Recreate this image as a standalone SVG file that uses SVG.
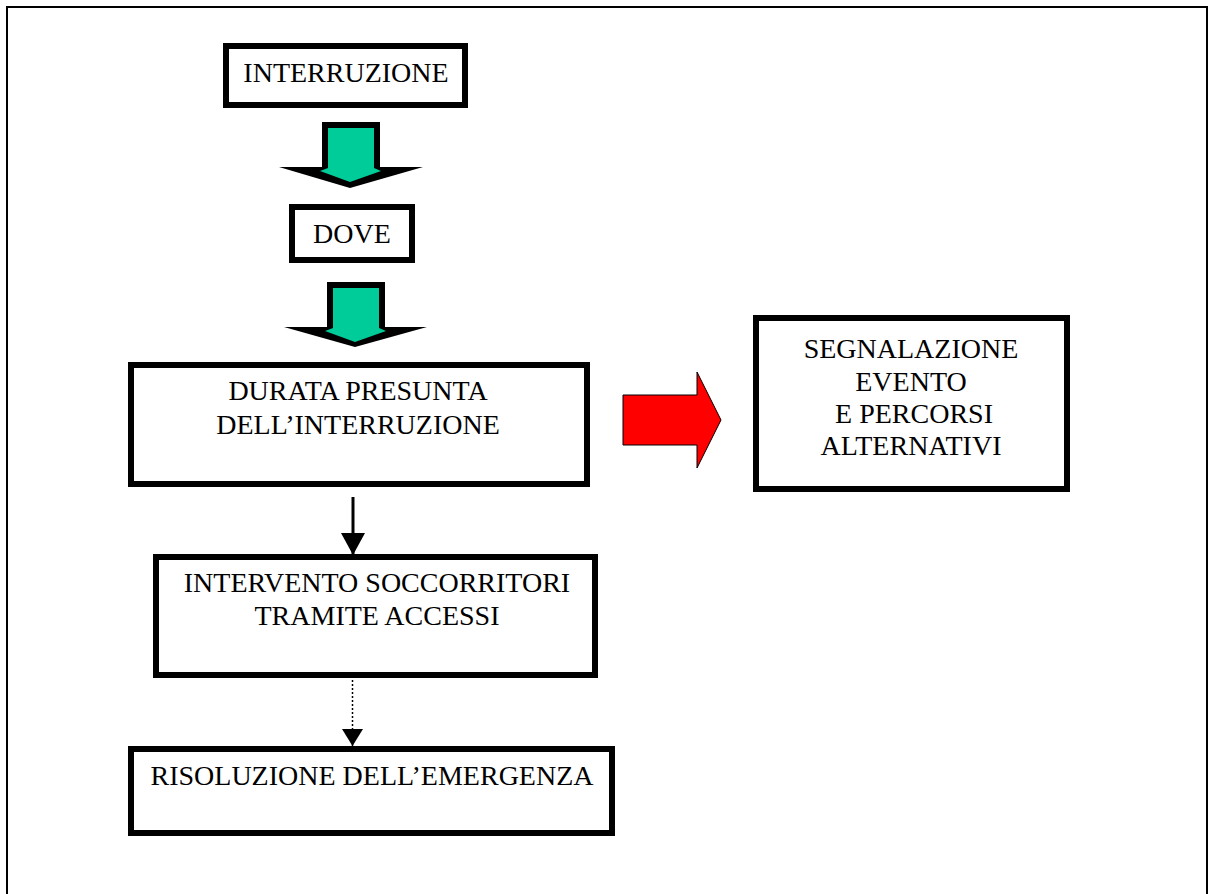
<svg xmlns="http://www.w3.org/2000/svg" width="1209" height="894" viewBox="0 0 1209 894">
<style>
.box{fill:#fff;stroke:#000;stroke-width:6}
.t{font-family:"Liberation Serif","Times New Roman",serif;font-size:28px;fill:#000;text-anchor:middle}
.blk{fill:#000}
.grn{fill:#00CC99}
</style>
<defs>
<marker id="ah" markerWidth="22" markerHeight="24" refX="22" refY="12" orient="auto" markerUnits="userSpaceOnUse" viewBox="0 0 22 24">
<path d="M0,0 L22,12 L0,24 Z" fill="#000"/>
</marker>
<marker id="ah2" markerWidth="17" markerHeight="21" refX="17" refY="10.5" orient="auto" markerUnits="userSpaceOnUse" viewBox="0 0 17 21">
<path d="M0,0 L17,10.5 L0,21 Z" fill="#000"/>
</marker>
</defs>
<rect x="0" y="0" width="1209" height="894" fill="#fff"/>
<rect x="7" y="7" width="1200" height="910" fill="none" stroke="#000" stroke-width="2"/>

<g id="connectors">
<g id="green-arrow-1">
<polygon class="blk" points="322,122 380,122 380,167 423,167 350,188 279,167 322,167"/>
<polygon class="grn" points="328,128 374,128 374,168 381,171 350,182 320,171 328,168"/>
</g>
<g id="green-arrow-2">
<polygon class="blk" points="327,282 385,282 385,327 427,327 355,347 284,327 327,327"/>
<polygon class="grn" points="333,288 379,288 379,328 386,331 355,342 325,331 333,328"/>
</g>
<polygon id="red-arrow" points="623,395 697,395 697,372 721,420 697,468 697,445 623,445" fill="#FF0000" stroke="#000" stroke-width="1"/>
<path d="M353,497 L353,555" stroke="#000" stroke-width="3" fill="none" marker-end="url(#ah)"/>
<path d="M352.5,680 L352.5,746" stroke="#000" stroke-width="1.5" stroke-dasharray="2,2" fill="none" marker-end="url(#ah2)"/>
</g>

<g id="node-interruzione">
<rect class="box" x="226" y="46" width="239" height="59"/>
<text class="t" x="346" y="82">INTERRUZIONE</text>
</g>
<g id="node-dove">
<rect class="box" x="292" y="207" width="120" height="53"/>
<text class="t" x="352" y="243">DOVE</text>
</g>
<g id="node-durata">
<rect class="box" x="131" y="365" width="456" height="119"/>
<text class="t" x="358" y="400">DURATA PRESUNTA</text>
<text class="t" x="358" y="434">DELL’INTERRUZIONE</text>
</g>
<g id="node-segnalazione">
<rect class="box" x="756" y="318" width="311" height="171"/>
<text class="t" x="911" y="358">SEGNALAZIONE</text>
<text class="t" x="911" y="391">EVENTO </text>
<text class="t" x="914" y="423"> E PERCORSI</text>
<text class="t" x="911" y="455">ALTERNATIVI</text>
</g>
<g id="node-intervento">
<rect class="box" x="156" y="557" width="439" height="118"/>
<text class="t" x="377" y="592">INTERVENTO SOCCORRITORI</text>
<text class="t" x="377" y="625">TRAMITE ACCESSI</text>
</g>
<g id="node-risoluzione">
<rect class="box" x="131" y="749" width="481" height="84"/>
<text class="t" x="372" y="785">RISOLUZIONE DELL’EMERGENZA</text>
</g>
</svg>
